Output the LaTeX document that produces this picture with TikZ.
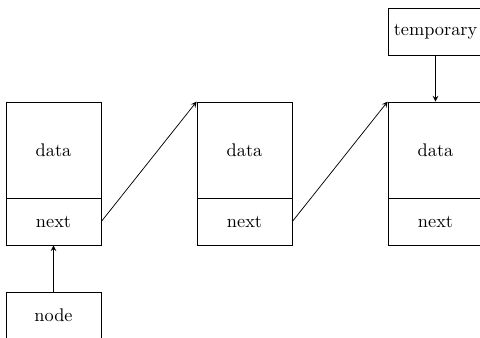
\documentclass[tikz,border=0pt]{standalone}
\begin{document}
\begin{tikzpicture}[x=0.5464pt,y=-0.5464pt,
  cell/.style={draw, inner sep=0pt, minimum width=51.9pt},
  datacell/.style={cell, minimum height=52.5pt},
  nextcell/.style={cell, minimum height=25.7pt},
  link/.style={->, >=stealth}]
\useasboundingbox (0,0) rectangle (480,338);
\node[datacell] (d1) at (53.5,150) {data};
\node[nextcell] (n1) at (53.5,221.5) {next};
\node[datacell] (d2) at (244.5,150) {data};
\node[nextcell] (n2) at (244.5,221.5) {next};
\node[datacell] (d3) at (435.5,150) {data};
\node[nextcell] (n3) at (435.5,221.5) {next};
\node[nextcell] (tmp) at (435.5,31.5) {temporary};
\node[nextcell] (nd) at (53.5,315.5) {node};
\draw[link] (n1.east) -- (d2.north west);
\draw[link] (n2.east) -- (d3.north west);
\draw[link] (tmp.south) -- (d3.north);
\draw[link] (nd.north) -- (n1.south);
\end{tikzpicture}
\end{document}
